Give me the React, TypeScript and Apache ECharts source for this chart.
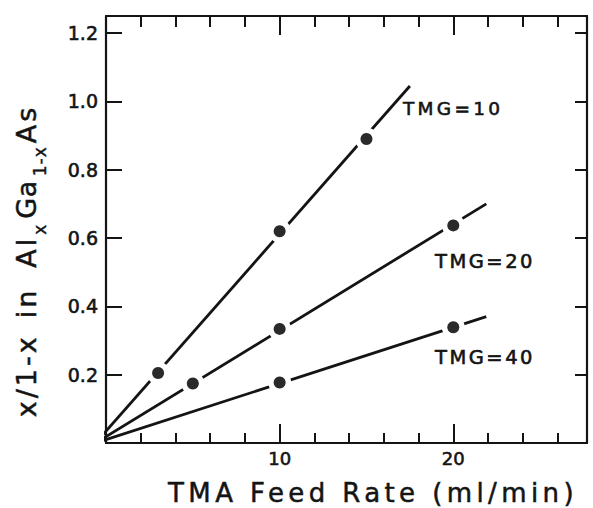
import React, { useEffect, useRef } from "react";
import * as echarts from "echarts";

// Measured points (TMA feed rate in ml/min, x/(1-x))
const tmg10Points: [number, number][] = [[3, 0.205], [10, 0.62], [15, 0.89]];
const tmg20Points: [number, number][] = [[5, 0.174], [10, 0.334], [20, 0.637]];
const tmg40Points: [number, number][] = [[10, 0.177], [20, 0.339]];

// Straight fit lines (start / end as drawn in the figure)
const tmg10Fit: [number, number][] = [[-0.6, 0], [17.5, 1.045]];
const tmg20Fit: [number, number][] = [[-0.6, 0], [21.9, 0.7]];
const tmg40Fit: [number, number][] = [[-0.6, 0], [21.9, 0.37]];

const seriesNames = ["TMG=10", "TMG=20", "TMG=40"];
const xLabelValues = [10, 20];
const yLabelValues = [0.2, 0.4, 0.6, 0.8, 1.0, 1.2];
const xMax = 27.7;
const yMax = 1.25;

const FONT = "DejaVu Sans";
const INK = "#141414";

const spacingMap: Record<string, number> = {
  "TMA Feed Rate (ml/min)": 4.4,
  "TMG=10": 3.3,
  "TMG=20": 2.5,
  "TMG=40": 2.5,
  "x/1-x": 3,
  in: 3,
  Al: 3,
  x: 1,
  Ga: 0.5,
  "1-x": 1,
  As: 3,
};

export default function App() {
  const ref = useRef<HTMLDivElement>(null);

  useEffect(() => {
    if (!ref.current) return;
    const el = ref.current;
    const chart = echarts.init(el, undefined, { renderer: "svg" });

    const axisLineStyle = { color: INK, width: 2.2 };
    const tickStyle = { color: INK, width: 2 };
    const heavy = (w: number) => ({ textBorderColor: INK, textBorderWidth: w });

    const baseX = { type: "value" as const, min: 0, max: xMax, gridIndex: 0, splitLine: { show: false } };
    const baseY = { type: "value" as const, min: 0, max: yMax, interval: 0.2, gridIndex: 0, splitLine: { show: false } };

    const mainTok = (pl: number, pr: number) => ({
      fontSize: 27, lineHeight: 30, fontFamily: FONT, fill: INK,
      verticalAlign: "top", align: "left", padding: [0, pr, 0, pl],
      stroke: INK, lineWidth: 0.5,
    });
    const subTok = (pl: number, pr: number) => ({
      fontSize: 17, lineHeight: 17, fontFamily: FONT, fill: INK,
      verticalAlign: "top", align: "left", padding: [18, pr, 0, pl],
      stroke: INK, lineWidth: 0.4,
    });

    const option: any = {
      animation: false,
      backgroundColor: "#ffffff",
      grid: { left: 106, right: 6, top: 16, bottom: 65, containLabel: false },
      xAxis: [
        {
          ...baseX, position: "bottom", interval: 2,
          axisLine: { show: true, onZero: false, lineStyle: axisLineStyle },
          axisTick: { show: true, inside: true, length: 10, lineStyle: tickStyle },
          axisLabel: {
            show: true, margin: 6, fontSize: 18, fontFamily: FONT, color: INK, ...heavy(0.6),
            formatter: (v: number) => (xLabelValues.some((t) => Math.abs(t - v) < 1e-6) ? String(v) : ""),
          },
        },
        {
          ...baseX, position: "bottom", interval: 10,
          axisLine: { show: false, onZero: false },
          axisTick: { show: true, inside: true, length: 19, lineStyle: tickStyle },
          axisLabel: { show: false },
        },
        {
          ...baseX, position: "top", interval: 2,
          axisLine: { show: true, onZero: false, lineStyle: axisLineStyle },
          axisTick: { show: true, inside: true, length: 11, lineStyle: tickStyle },
          axisLabel: { show: false },
        },
        {
          ...baseX, position: "top", interval: 10,
          axisLine: { show: false, onZero: false },
          axisTick: { show: true, inside: true, length: 19, lineStyle: tickStyle },
          axisLabel: { show: false },
        },
      ],
      yAxis: [
        {
          ...baseY, position: "left",
          axisLine: { show: true, onZero: false, lineStyle: axisLineStyle },
          axisTick: { show: true, inside: true, length: 16, lineStyle: tickStyle },
          axisLabel: {
            show: true, margin: 8, fontSize: 19, fontFamily: FONT, color: INK, ...heavy(0.6),
            formatter: (v: number) => (yLabelValues.some((t) => Math.abs(t - v) < 1e-6) ? v.toFixed(1) : ""),
          },
        },
        {
          ...baseY, position: "right",
          axisLine: { show: true, onZero: false, lineStyle: axisLineStyle },
          axisTick: { show: true, inside: true, length: 12, lineStyle: tickStyle },
          axisLabel: { show: false },
        },
      ],
      series: [
        ...[tmg10Fit, tmg20Fit, tmg40Fit].map((d, i) => ({
          name: seriesNames[i] + " fit",
          type: "line",
          xAxisIndex: 0, yAxisIndex: 0,
          data: d,
          symbol: "none",
          clip: false,
          silent: true,
          lineStyle: { color: INK, width: 2.8 },
          z: 2,
        })),
        {
          name: "gap",
          type: "scatter",
          xAxisIndex: 0, yAxisIndex: 0,
          data: [...tmg10Points, ...tmg20Points, ...tmg40Points],
          symbol: "circle",
          symbolSize: 23,
          silent: true,
          itemStyle: { color: "#ffffff", opacity: 1 },
          z: 3,
        },
        ...[tmg10Points, tmg20Points, tmg40Points].map((d, i) => ({
          name: seriesNames[i],
          type: "scatter",
          xAxisIndex: 0, yAxisIndex: 0,
          data: d,
          symbol: "circle",
          symbolSize: 12,
          silent: true,
          itemStyle: { color: "#2a2a2a", opacity: 1 },
          z: 4,
        })),
      ],
      graphic: [
        {
          type: "text", x: 403, y: 108, silent: true,
          style: { text: seriesNames[0], fontSize: 18.5, fontFamily: FONT, fill: INK, align: "left", verticalAlign: "middle", stroke: INK, lineWidth: 0.6 },
        },
        {
          type: "text", x: 435, y: 261, silent: true,
          style: { text: seriesNames[1], fontSize: 19.5, fontFamily: FONT, fill: INK, align: "left", verticalAlign: "middle", stroke: INK, lineWidth: 0.6 },
        },
        {
          type: "text", x: 435, y: 357, silent: true,
          style: { text: seriesNames[2], fontSize: 19.5, fontFamily: FONT, fill: INK, align: "left", verticalAlign: "middle", stroke: INK, lineWidth: 0.6 },
        },
        {
          type: "text", x: 373, y: 493, silent: true,
          style: { text: "TMA Feed Rate (ml/min)", fontSize: 26, fontFamily: FONT, fill: INK, align: "center", verticalAlign: "middle", stroke: INK, lineWidth: 0.5 },
        },
        {
          type: "text", x: 28, y: 261, rotation: Math.PI / 2, silent: true,
          style: {
            text: "{a|x/1-x}{b|in}{c|Al}{s1|x}{d|Ga}{s2|1-x}{e|As}",
            fontSize: 27, fontFamily: FONT, fill: INK, align: "center", verticalAlign: "middle",
            rich: {
              a: mainTok(0, 15),
              b: mainTok(16, 6),
              c: mainTok(20, 6),
              s1: subTok(1, 2),
              d: mainTok(4, 1),
              s2: subTok(4, 3),
              e: mainTok(3, 6),
            },
          },
        },
      ],
    };

    chart.setOption(option);

    const applySpacing = () => {
      el.querySelectorAll("text").forEach((t) => {
        const s = spacingMap[(t.textContent || "").trim()];
        if (s !== undefined && t.getAttribute("letter-spacing") !== String(s)) {
          t.setAttribute("letter-spacing", String(s));
        }
      });
    };
    chart.on("rendered", applySpacing);
    chart.on("finished", applySpacing);
    applySpacing();
    const raf = requestAnimationFrame(applySpacing);
    const tm = setTimeout(applySpacing, 50);

    return () => {
      cancelAnimationFrame(raf);
      clearTimeout(tm);
      chart.dispose();
    };
  }, []);

  return (
    <div
      ref={ref}
      style={{ position: "absolute", left: 0, top: 0, width: 593, height: 508, background: "#fff" }}
    />
  );
}
